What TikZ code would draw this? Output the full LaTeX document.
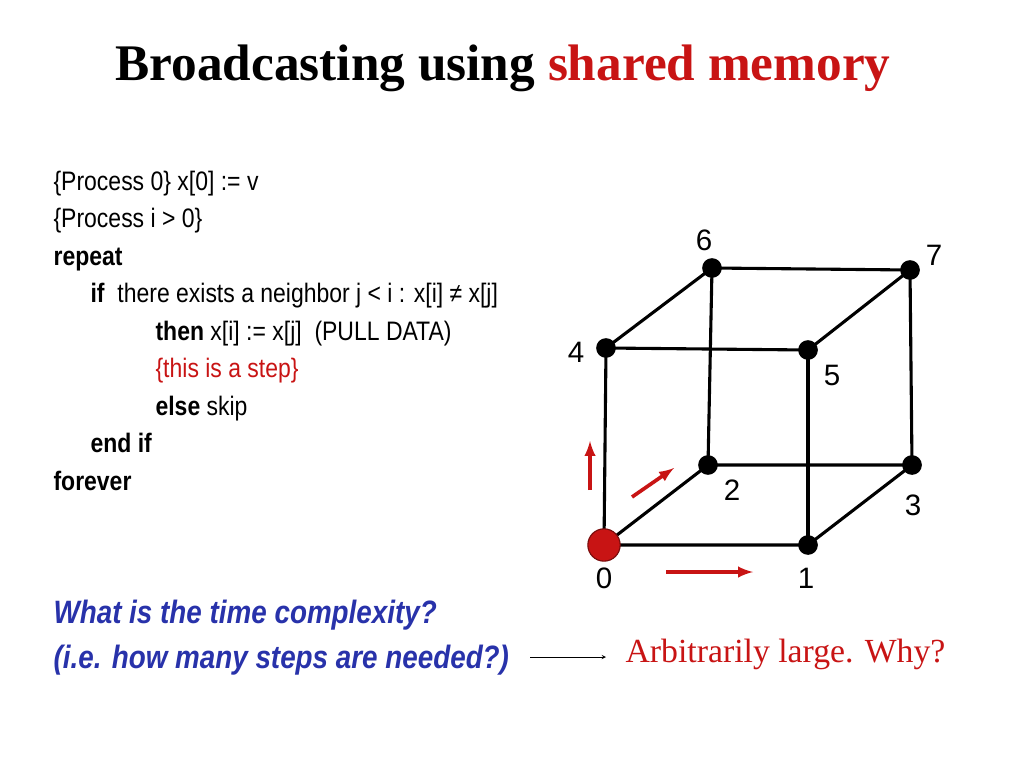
\documentclass[tikz,border=0pt]{standalone}
\usepackage{fontspec}
\setmainfont{Liberation Serif}
\newfontfamily\narrowsans[FakeStretch=0.86]{Liberation Sans}
\newfontfamily\plainsans{Liberation Sans}
\usetikzlibrary{positioning}
\definecolor{slidered}{RGB}{200,20,20}
\definecolor{slideblue}{RGB}{40,50,170}
\begin{document}
\begin{tikzpicture}[x=0.025cm,y=-0.025cm,thick,
    code line/.style={anchor=base west,inner sep=0pt,font=\narrowsans\fontsize{19}{22}\selectfont},
    vertex/.style={circle,fill=black,inner sep=0pt,minimum size=14pt},
    vertex label/.style={font=\plainsans\fontsize{21}{24}\selectfont},
    edge/.style={line width=2.2pt},
    move/.style={->,>=latex,slidered,line width=2.6pt}]

\useasboundingbox (0,0) rectangle (1024,768);

%Title
 \node (Title) at (503,68) {\fontsize{36.5}{40}\selectfont\bfseries Broadcasting using \textcolor{slidered}{shared memory}};

%Algorithm
 \node[code line] (Line1) at (53,190) {\{Process 0\} x[0] := v};
 \node[code line] (Line2) at (53,227) {\{Process i > 0\}};
 \node[code line] (Line3) at (53,265) {\textbf{repeat}};
 \node[code line] (Line4) at (90,302) {\textbf{if} \ there exists a neighbor j < i : x[i] ≠ x[j]};
 \node[code line] (Line5) at (155,340) {\textbf{then} x[i] := x[j] \ (PULL DATA)};
 \node[code line,slidered] (Line6) at (155,377) {\{this is a step\}};
 \node[code line] (Line7) at (155,415) {\textbf{else} skip};
 \node[code line] (Line8) at (90,452) {\textbf{end if}};
 \node[code line] (Line9) at (53,490) {\textbf{forever}};

%Cube
 \node[vertex] (V0) at (604,545) {};
 \node[vertex] (V1) at (808,545) {};
 \node[vertex] (V2) at (708,465) {};
 \node[vertex] (V3) at (912,465) {};
 \node[vertex] (V4) at (606,348) {};
 \node[vertex] (V5) at (808,350) {};
 \node[vertex] (V6) at (712,268) {};
 \node[vertex] (V7) at (910,270) {};

 \draw[edge] (V0.center)--(V1.center)--(V3.center)--(V2.center)--(V0.center);
 \draw[edge] (V4.center)--(V5.center)--(V7.center)--(V6.center)--(V4.center);
 \foreach \a/\b in {0/4,1/5,2/6,3/7}
  \draw[edge] (V\a.center)--(V\b.center);
 \node[circle,fill=slidered,draw=slidered!60!black,inner sep=0pt,minimum size=23pt] (Source) at (V0) {};

 \node[vertex label] (L0) at (604,578) {0};
 \node[vertex label] (L1) at (806,578) {1};
 \node[vertex label] (L2) at (732,490) {2};
 \node[vertex label] (L3) at (913,505) {3};
 \node[vertex label] (L4) at (576,352) {4};
 \node[vertex label] (L5) at (832,375) {5};
 \node[vertex label] (L6) at (704,240) {6};
 \node[vertex label] (L7) at (934,255) {7};

%Moves of the data
 \coordinate (UpStart) at (590,490);  \coordinate (UpEnd) at (590,441);
 \coordinate (DiagStart) at (632,497); \coordinate (DiagEnd) at (674,468);
 \coordinate (RightStart) at (666,572); \coordinate (RightEnd) at (753,572);
 \draw[move] (UpStart)--(UpEnd);
 \draw[move] (DiagStart)--(DiagEnd);
 \draw[move] (RightStart)--(RightEnd);

%Question and answer
 \node[anchor=base west,inner sep=0pt,slideblue,font=\narrowsans\fontsize{23}{26}\selectfont\bfseries\itshape] (Question1) at (53,623) {What is the time complexity?};
 \node[anchor=base west,inner sep=0pt,slideblue,font=\narrowsans\fontsize{23}{26}\selectfont\bfseries\itshape] (Question2) at (53,668) {(i.e. how many steps are needed?)};
 \node[anchor=base west,inner sep=0pt,slidered,font=\fontsize{24}{26}\selectfont] (Answer) at (625,662) {Arbitrarily large. Why?};
 \coordinate (AskStart) at (530,657);
 \coordinate (AskEnd) at (606,657);
 \draw[->,>=stealth,thin] (AskStart)--(AskEnd);

\end{tikzpicture}
\end{document}
